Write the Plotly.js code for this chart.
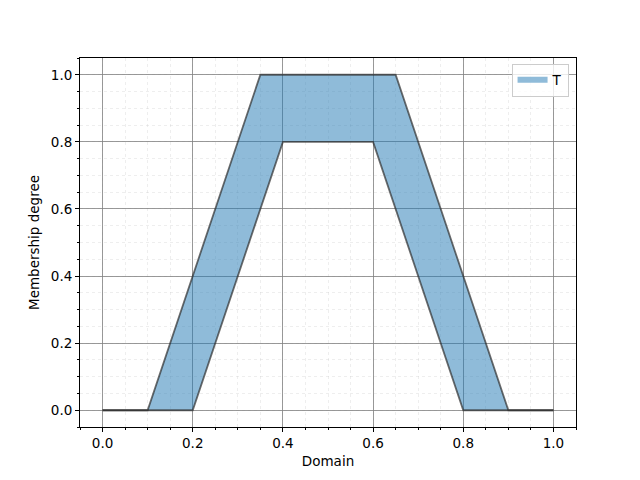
<!DOCTYPE html>
<html><head><meta charset="utf-8">
<script src="https://cdn.plot.ly/plotly-3.0.1.min.js"></script>
<style>body{margin:0}#c{width:640px;height:480px}</style>
</head><body><div id="c"></div>
<script>
const upperX = [0, 0.1, 0.35, 0.65, 0.9, 1.0];
const upperY = [0, 0, 1.0, 1.0, 0, 0];
const lowerX = [0, 0.2, 0.4, 0.6, 0.8, 1.0];
const lowerY = [0, 0, 0.8, 0.8, 0, 0];
const setName = 'T';
const tickVals = [0, 0.2, 0.4, 0.6, 0.8, 1.0];
const tickText = ['0.0', '0.2', '0.4', '0.6', '0.8', '1.0'];

const lineStyle = {color: 'rgba(45,45,45,0.7)', width: 1.8};
const fillColor = 'rgba(31,119,180,0.5)';
const traces = [
  {x: lowerX, y: lowerY, mode: 'lines', line: lineStyle, showlegend: false, hoverinfo: 'skip'},
  {x: upperX, y: upperY, mode: 'lines', line: lineStyle, fill: 'tonexty', fillcolor: fillColor, showlegend: false},
  {x: [null], y: [null], mode: 'none', fill: 'toself', fillcolor: fillColor, name: setName, showlegend: true}
];
const axisCommon = {
  range: [-0.05, 1.05], tickvals: tickVals, ticktext: tickText,
  showline: true, mirror: true, linecolor: 'black', linewidth: 1,
  ticks: 'outside', ticklen: 4, tickcolor: 'black',
  showgrid: true, gridcolor: 'rgba(128,128,128,0.8)', gridwidth: 0.8,
  zeroline: false,
  tickfont: {family: 'DejaVu Sans', size: 13.5, color: 'black'},
  minor: {dtick: 0.05, tick0: 0, ticks: 'outside', ticklen: 2, tickcolor: 'black', showgrid: true, gridcolor: 'rgba(200,200,200,0.3)', griddash: 'dot', gridwidth: 0.6}
};
const layout = {
  width: 640, height: 480,
  margin: {l: 80, r: 64, t: 58, b: 53},
  paper_bgcolor: 'white', plot_bgcolor: 'white',
  font: {family: 'DejaVu Sans', size: 13.5, color: 'black'},
  xaxis: Object.assign({}, axisCommon, {title: {text: 'Domain', font: {size: 13.5}, standoff: 6}}),
  yaxis: Object.assign({}, axisCommon, {title: {text: 'Membership degree', font: {size: 13.5}, standoff: 8}}),
  legend: {x: 0.985, y: 0.985, xanchor: 'right', yanchor: 'top', bgcolor: 'rgba(255,255,255,0.8)', bordercolor: '#cccccc', borderwidth: 1, font: {size: 13.5}}
};
Plotly.newPlot('c', traces, layout, {displayModeBar: false});
</script>
</body></html>
